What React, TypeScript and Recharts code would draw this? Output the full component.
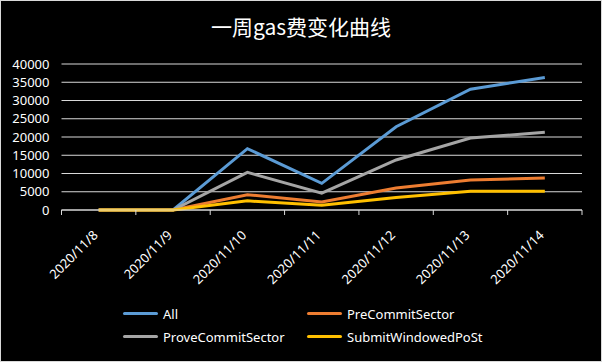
import { LineChart, Line, XAxis, YAxis, CartesianGrid, Legend } from "recharts";

const dates = ["2020/11/8", "2020/11/9", "2020/11/10", "2020/11/11", "2020/11/12", "2020/11/13", "2020/11/14"];
const allGas = [0, 0, 16800, 7300, 22800, 33100, 36300];
const preCommit = [0, 0, 4200, 2200, 6000, 8200, 8800];
const proveCommit = [0, 0, 10300, 4600, 13700, 19700, 21300];
const submitPost = [0, 0, 2500, 1300, 3400, 5150, 5150];
const yTicks = [0, 5000, 10000, 15000, 20000, 25000, 30000, 35000, 40000];

const series = [
  { key: "All", color: "#5b9bd5" },
  { key: "PreCommitSector", color: "#ed7d31" },
  { key: "ProveCommitSector", color: "#a5a5a5" },
  { key: "SubmitWindowedPoSt", color: "#ffc000" },
];

const data = dates.map((date, i) => ({
  date,
  All: allGas[i],
  PreCommitSector: preCommit[i],
  ProveCommitSector: proveCommit[i],
  SubmitWindowedPoSt: submitPost[i],
}));

const W = 602;
const H = 362;
const LEFT = 61.5;
const RIGHT = 20;
const BAND = (W - LEFT - RIGHT) / dates.length;
const GRID = "#d9d9d9";
const FONT = "'Noto Sans', sans-serif";

// category label rotated -45deg, plus Excel-style tick marks on the band edges
function DateTick({ x, y, payload, index }: any) {
  const half = BAND / 2;
  return (
    <g>
      <line x1={x - half} y1={y} x2={x - half} y2={y + 5} stroke={GRID} />
      {index === dates.length - 1 && <line x1={x + half} y1={y} x2={x + half} y2={y + 5} stroke={GRID} />}
      <text
        x={x}
        y={y + 26}
        textAnchor="end"
        fill="#fff"
        transform={`rotate(-45, ${x}, ${y + 26})`}
        style={{ fontFamily: FONT, fontSize: 13 }}
      >
        {payload.value}
      </text>
    </g>
  );
}

// two-column legend like Excel's
function GasLegend({ payload }: { payload?: any[] }) {
  return (
    <div
      style={{
        display: "grid",
        gridTemplateColumns: "184px 184px",
        rowGap: 4,
        paddingLeft: 123,
        fontFamily: FONT,
        fontSize: 13,
        color: "#fff",
      }}
    >
      {(payload ?? []).map((p) => (
        <div key={p.value} style={{ display: "flex", alignItems: "center", height: 19 }}>
          <span style={{ width: 35, height: 3, background: p.color, borderRadius: 2, marginRight: 5 }} />
          <span>{p.value}</span>
        </div>
      ))}
    </div>
  );
}

export default function App() {
  return (
    <div
      style={{
        position: "fixed",
        top: 0,
        left: 0,
        width: W,
        height: H,
        background: "#000",
        boxShadow: `inset 0 0 0 1px ${GRID}`,
      }}
    >
      <LineChart width={W} height={H} data={data} margin={{ top: 64, right: RIGHT, left: 0, bottom: 0 }}>
        <text
          x={301}
          y={35}
          textAnchor="middle"
          fill="#fff"
          style={{ fontFamily: "'Noto Sans CJK SC', sans-serif", fontSize: 21 }}
        >
          一周gas费变化曲线
        </text>
        <CartesianGrid vertical={false} stroke={GRID} />
        <XAxis
          dataKey="date"
          interval={0}
          padding={{ left: BAND / 2, right: BAND / 2 }}
          stroke={GRID}
          tickLine={false}
          tickSize={0}
          tickMargin={0}
          height={152}
          tick={<DateTick />}
        />
        <YAxis
          width={LEFT}
          domain={[0, 40000]}
          ticks={yTicks}
          interval={0}
          axisLine={false}
          tickLine={false}
          tickMargin={6}
          tick={{ fill: "#fff", fontSize: 13, fontFamily: FONT }}
        />
        <Legend
          verticalAlign="middle"
          content={<GasLegend />}
          wrapperStyle={{ top: 304, left: 0, width: W }}
        />
        {series.map((s) => (
          <Line
            key={s.key}
            dataKey={s.key}
            stroke={s.color}
            strokeWidth={3}
            dot={false}
            type="linear"
            isAnimationActive={false}
          />
        ))}
      </LineChart>
    </div>
  );
}
